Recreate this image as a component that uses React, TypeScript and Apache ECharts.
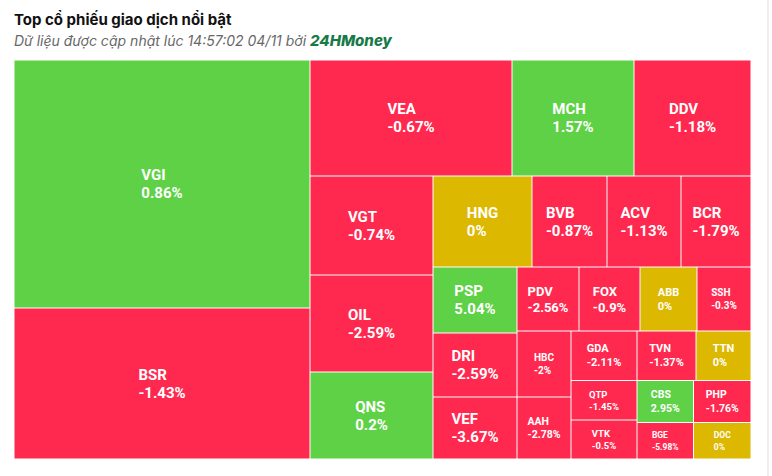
import React, { useEffect, useRef } from 'react';
import * as echarts from 'echarts';

const TITLE = 'Top cổ phiếu giao dịch nổi bật';
const SUBTITLE = 'Dữ liệu được cập nhật lúc 14:57:02 04/11 bởi ';
const BRAND = '24HMoney';

// Tickers, daily % change and traded size (relative)
const TICKERS = ['VGI', 'BSR', 'VEA', 'MCH', 'DDV', 'VGT', 'OIL', 'QNS', 'HNG', 'BVB', 'ACV', 'BCR', 'PSP', 'DRI', 'VEF', 'PDV', 'FOX', 'ABB', 'SSH', 'HBC', 'AAH', 'GDA', 'TVN', 'TTN', 'QTP', 'VTK', 'CBS', 'PHP', 'BGE', 'DOC'];
const CHANGES = [0.86, -1.43, -0.67, 1.57, -1.18, -0.74, -2.59, 0.2, 0, -0.87, -1.13, -1.79, 5.04, -2.59, -3.67, -2.56, -0.9, 0, -0.3, -2, -2.78, -2.11, -1.37, 0, -1.45, -0.5, 2.95, -1.76, -5.98, 0];
const SIZES = [73408, 44696, 23432, 14152, 13572, 12177, 11931, 10701, 9009, 6825, 6734, 6370, 5544, 5376, 5208, 3968, 3904, 3648, 3456, 3564, 3348, 3267, 2920.5, 2722.5, 2607, 2574, 2373, 2415, 2062, 2099];

// Nesting of the tiles (alternating strips, as in the reference)
type Spec = string | Spec[];
const G9: Spec = [['CBS', 'PHP'], ['BGE', 'DOC']];
const G8: Spec = ['QTP', 'VTK', G9];
const G7: Spec = [['GDA', 'TVN', 'TTN'], G8];
const G6: Spec = ['HBC', 'AAH', G7];
const G5: Spec = [['PDV', 'FOX', 'ABB', 'SSH'], G6];
const G4: Spec = ['PSP', 'DRI', 'VEF', G5];
const G3: Spec = [['HNG', 'BVB', 'ACV', 'BCR'], G4];
const G2: Spec = ['VGT', 'OIL', 'QNS', G3];
const G1: Spec = [['VEA', 'MCH', 'DDV'], G2];
const ROOT: Spec[] = ['VGI', 'BSR', G1];

// label font sizes (style)
const LABEL_SIZE: Record<string, number> = {
  VGI: 15, BSR: 15, VEA: 15, MCH: 15, DDV: 15, VGT: 15, OIL: 15, QNS: 15,
  HNG: 15, BVB: 15, ACV: 15, BCR: 15, PSP: 15, DRI: 15, VEF: 15,
  PDV: 13, FOX: 13, ABB: 11, SSH: 10, HBC: 10, AAH: 10.5, GDA: 11, TVN: 11, TTN: 11,
  QTP: 9.5, VTK: 9.5, CBS: 10.5, PHP: 10.5, BGE: 8.5, DOC: 8.5,
};

const GREEN = '#5ed146';
const RED = '#ff294f';
const YELLOW = '#ddb800';
const colorOf = (v: number) => (v > 0 ? GREEN : v < 0 ? RED : YELLOW);

export default function App() {
  const ref = useRef<HTMLDivElement>(null);
  useEffect(() => {
    if (!ref.current) return;
    const canvas = document.createElement('canvas');
    const ctx = canvas.getContext('2d')!;
    const measure = (t: string, fs: number) => {
      ctx.font = `bold ${fs}px Roboto`;
      return ctx.measureText(t).width;
    };
    let gid = 0;
    const build = (spec: Spec): any => {
      if (typeof spec === 'string') {
        const i = TICKERS.indexOf(spec);
        const pct = `${CHANGES[i]}%`;
        const fs = LABEL_SIZE[spec];
        const w = Math.max(measure(spec, fs), measure(pct, fs));
        return {
          name: spec,
          value: SIZES[i],
          pct,
          itemStyle: { color: colorOf(CHANGES[i]), borderColor: '#ffffff', borderWidth: 0.5 },
          label: { fontSize: fs, lineHeight: fs + 3, offset: [-w / 2, 0] },
        };
      }
      gid += 1;
      return { name: `g${gid}`, children: spec.map(build) };
    };
    const data = ROOT.map(build);

    const chart = echarts.init(ref.current, null, { renderer: 'svg' });
    chart.setOption({
      animation: false,
      graphic: [
        {
          type: 'text', x: 14, y: 19,
          style: { text: TITLE, fill: '#111111', font: 'bold 15px Inter', verticalAlign: 'middle' },
        },
        {
          type: 'text', x: 14, y: 40,
          style: {
            text: `{a|${SUBTITLE}}{b|${BRAND}}`,
            verticalAlign: 'middle',
            rich: {
              a: { fill: '#676767', font: 'italic 14px Inter' },
              b: { fill: '#177a47', font: 'italic 800 15px Inter' },
            },
          },
        },
        { type: 'rect', shape: { x: 767, y: 0, width: 2, height: 476 }, style: { fill: '#eeeeee' } },
      ],
      series: [
        {
          type: 'treemap',
          left: 14, top: 60, width: 737, height: 399,
          sort: false,
          roam: false,
          nodeClick: false,
          breadcrumb: { show: false },
          itemStyle: { borderWidth: 0, gapWidth: 0, borderColor: '#ffffff' },
          upperLabel: { show: false },
          label: {
            show: true,
            position: 'inside',
            align: 'left',
            verticalAlign: 'middle',
            padding: 0,
            color: '#ffffff',
            fontFamily: 'Roboto',
            fontWeight: 'bold',
            formatter: (p: any) => `${p.name}\n${p.data.pct}`,
          },
          data,
        },
      ],
    });
    return () => chart.dispose();
  }, []);
  return (
    <div
      ref={ref}
      style={{ position: 'fixed', left: 0, top: 0, width: 772, height: 476, background: '#ffffff' }}
    />
  );
}
